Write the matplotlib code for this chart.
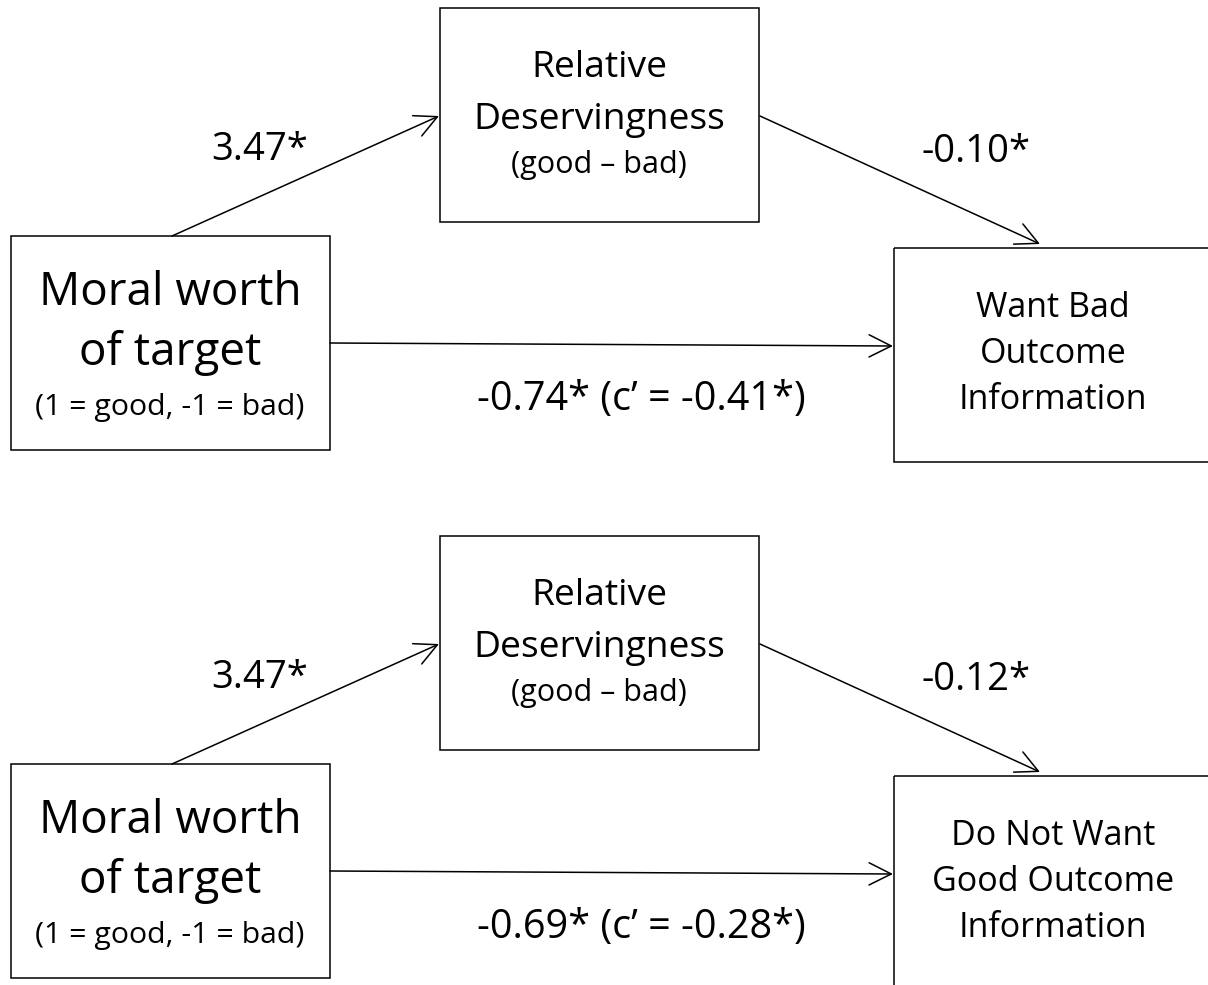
import matplotlib.pyplot as plt
from matplotlib.patches import Rectangle, FancyArrowPatch

plt.rcParams['font.family'] = ['Open Sans', 'DejaVu Sans']

# panel content
predictor = ["Moral worth", "of target", "(1 = good, -1 = bad)"]
mediator = ["Relative", "Deservingness", "(good \u2013 bad)"]
outcomes = [["Want Bad", "Outcome", "Information"],
            ["Do Not Want", "Good Outcome", "Information"]]
a_paths = ["3.47*", "3.47*"]
b_paths = ["-0.10*", "-0.12*"]
c_paths = ["-0.74* (c\u2019 = -0.41*)", "-0.69* (c\u2019 = -0.28*)"]
offsets = [0, 528]

fig = plt.figure(figsize=(12.08, 9.85), dpi=100)
ax = fig.add_axes([0, 0, 1, 1])
ax.set_xlim(0, 1208)
ax.set_ylim(985, 0)
ax.axis('off')


def box(x0, y0, x1, y1):
    ax.add_patch(Rectangle((x0, y0), x1 - x0, y1 - y0, fill=False,
                           edgecolor='black', linewidth=1.1, clip_on=True))


def arrow(p0, p1):
    ax.add_patch(FancyArrowPatch(p0, p1, arrowstyle='->,head_length=10,head_width=5',
                                 color='black', linewidth=1.1,
                                 shrinkA=0, shrinkB=0, mutation_scale=1.6))


for i, dy in enumerate(offsets):
    # boxes
    box(10.5, 236 + dy, 330, 450 + dy)
    box(440, 8 + dy, 759, 222 + dy)
    box(893.5, 248 + dy, 1230, 462 + dy)

    # arrows
    arrow((172, 236 + dy), (439, 116 + dy))
    arrow((760, 116 + dy), (1040, 244 + dy))
    arrow((330, 343 + dy), (893, 346 + dy))

    # predictor text
    ax.text(170, 293 + dy, predictor[0], fontsize=33, ha='center', va='center')
    ax.text(170, 353 + dy, predictor[1], fontsize=33, ha='center', va='center')
    ax.text(170, 408 + dy, predictor[2], fontsize=21.8, ha='center', va='center')

    # mediator text
    ax.text(599, 68 + dy, mediator[0], fontsize=26.8, ha='center', va='center')
    ax.text(599, 120 + dy, mediator[1], fontsize=26.8, ha='center', va='center')
    ax.text(599, 165 + dy, mediator[2], fontsize=22, ha='center', va='center')

    # outcome text
    for j, line in enumerate(outcomes[i]):
        ax.text(1053, 308 + 46 * j + dy, line, fontsize=24.5, ha='center', va='center')

    # path coefficients
    ax.text(260, 150 + dy, a_paths[i], fontsize=27.5, ha='center', va='center')
    ax.text(976, 152 + dy, b_paths[i], fontsize=27.5, ha='center', va='center')
    ax.text(641, 400 + dy, c_paths[i], fontsize=28.5, ha='center', va='center')

fig.savefig('out.png', dpi=100, facecolor='white')
